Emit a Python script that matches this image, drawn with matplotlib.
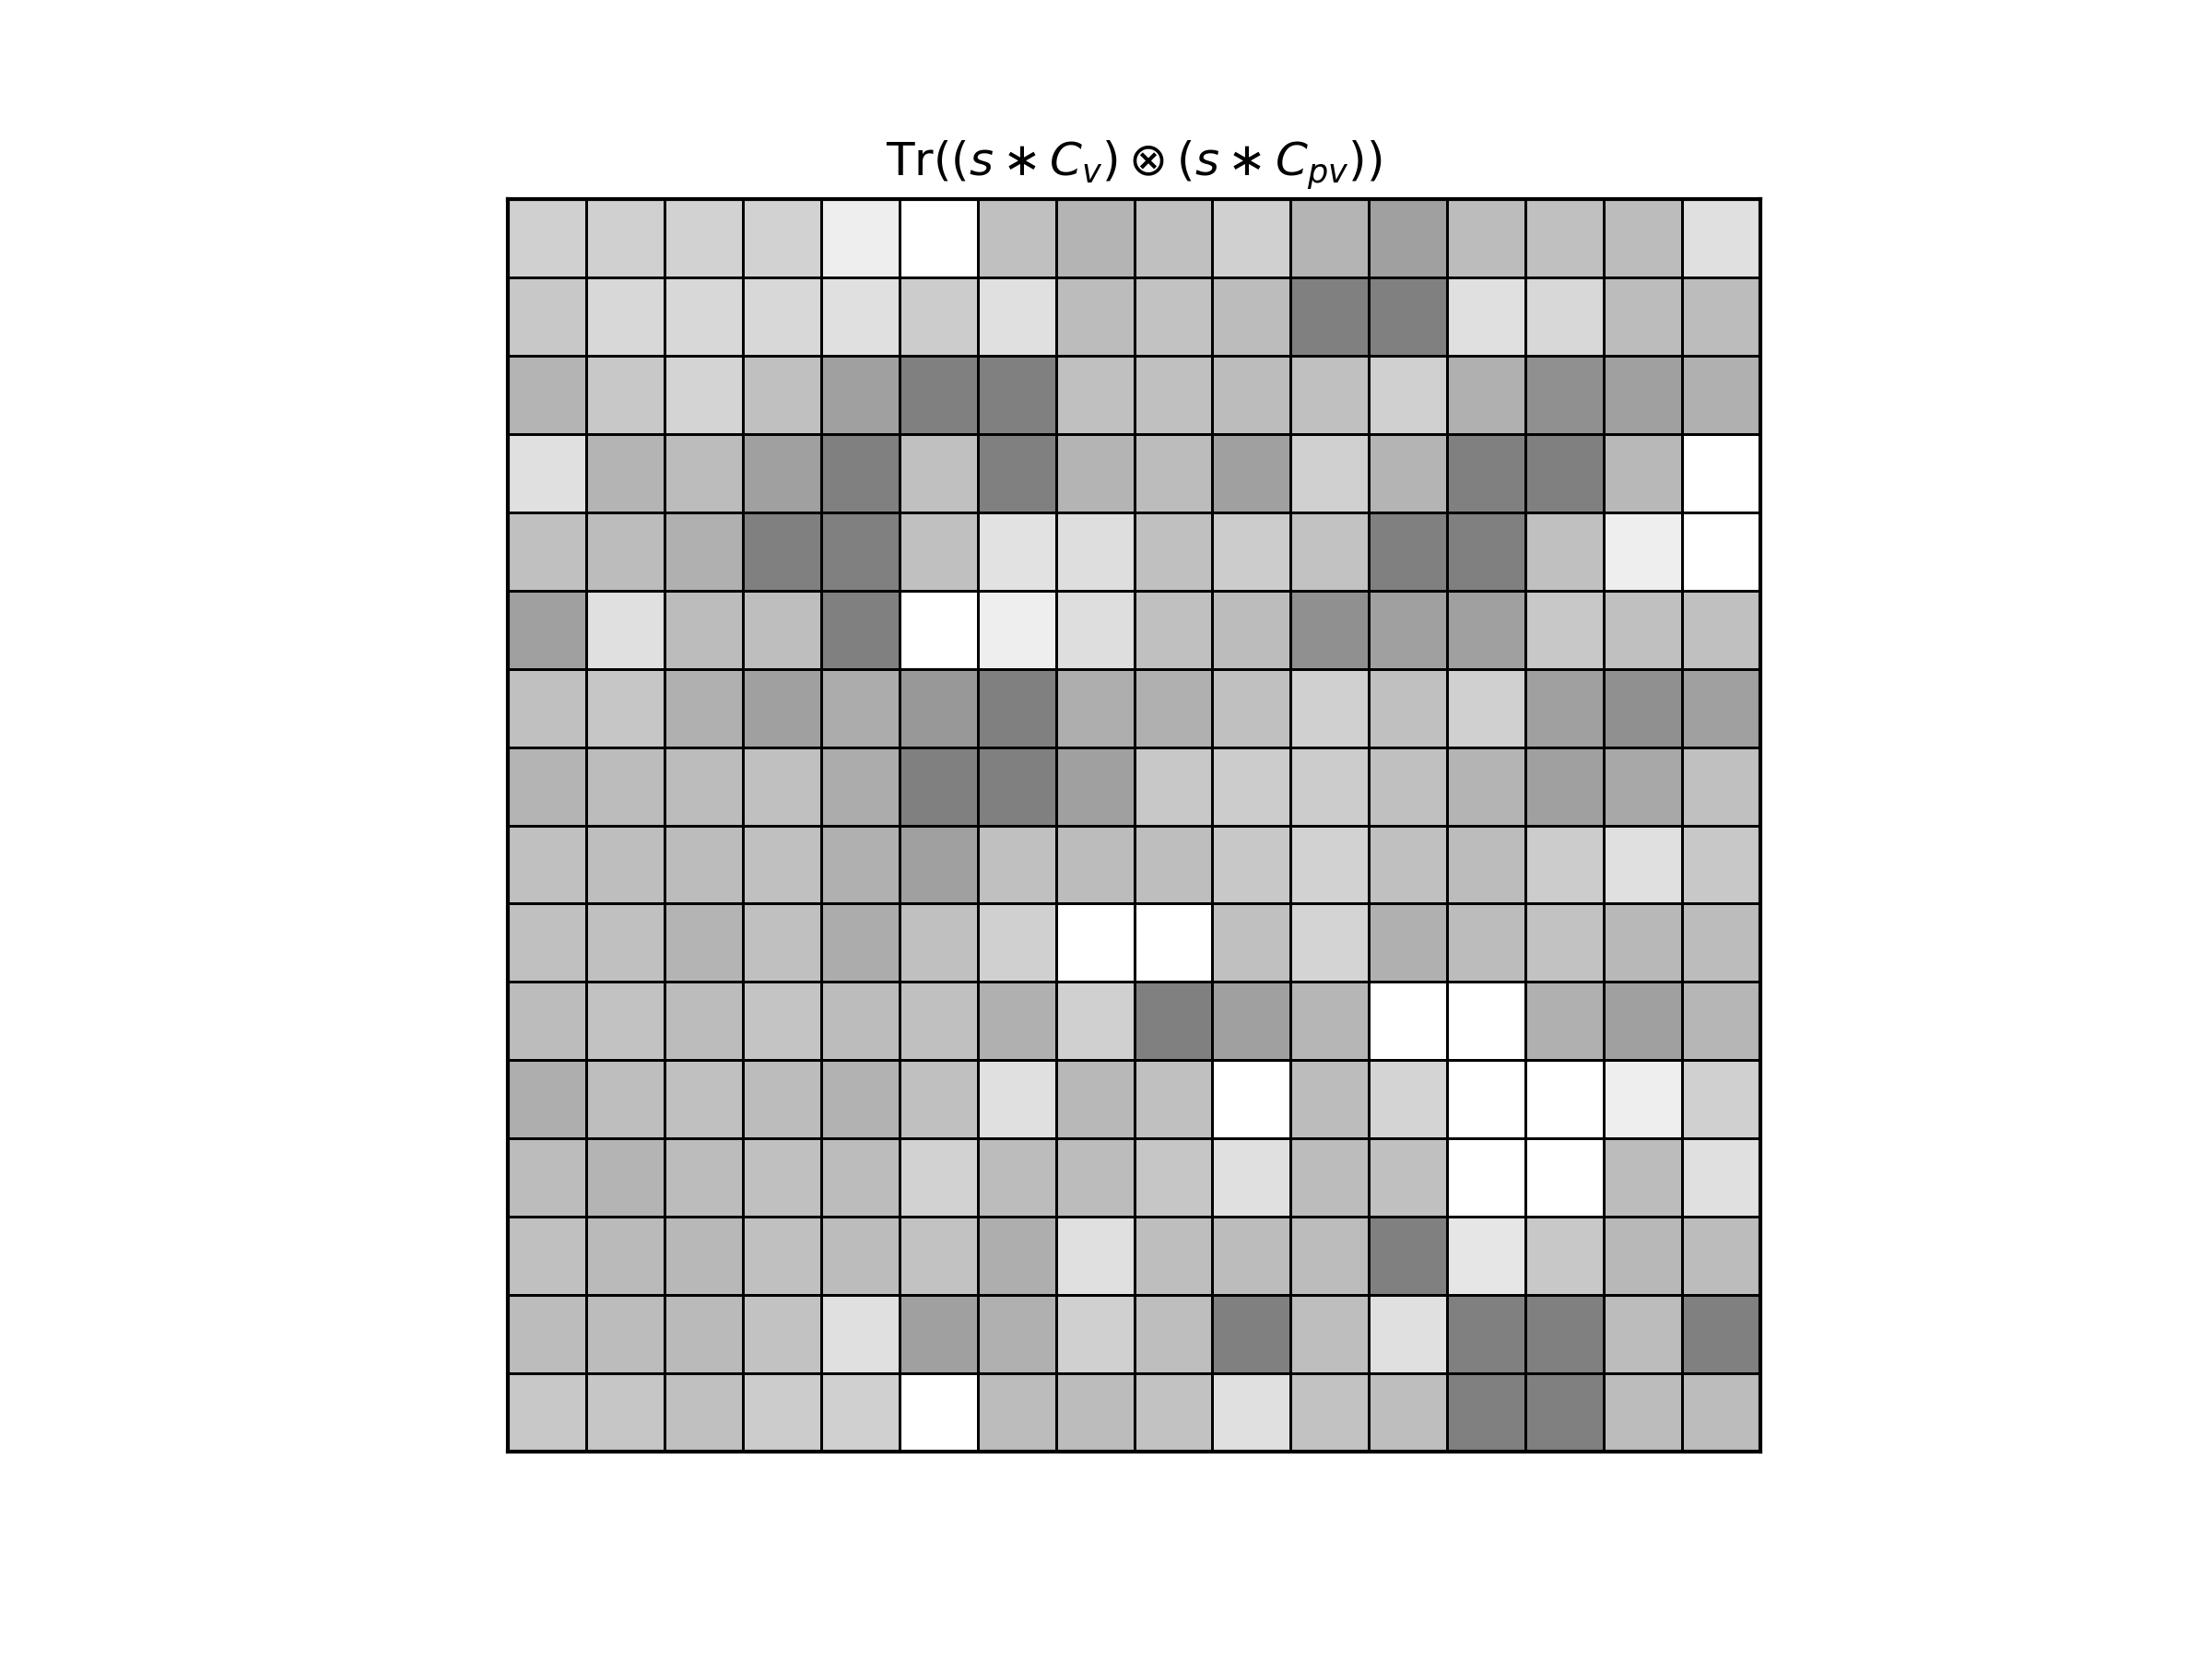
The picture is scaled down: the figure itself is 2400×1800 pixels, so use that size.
import numpy as np
import matplotlib
matplotlib.use("Agg")
import matplotlib.pyplot as plt

# grey intensity of each cell (0 = black, 255 = white), rows top to bottom
row00 = [0xD0, 0xD0, 0xD2, 0xD2, 0xEE, 0xFF, 0xC0, 0xB4, 0xC0, 0xD0, 0xB4, 0xA0, 0xBC, 0xC0, 0xBC, 0xE0]
row01 = [0xC8, 0xD8, 0xD8, 0xD8, 0xE0, 0xCC, 0xE0, 0xBC, 0xC2, 0xBC, 0x80, 0x80, 0xE0, 0xD8, 0xBC, 0xBC]
row02 = [0xB4, 0xC8, 0xD4, 0xC0, 0xA0, 0x80, 0x80, 0xC0, 0xC0, 0xBC, 0xC0, 0xD0, 0xB0, 0x90, 0xA0, 0xB0]
row03 = [0xE0, 0xB4, 0xBC, 0xA0, 0x80, 0xC0, 0x80, 0xB4, 0xBC, 0xA0, 0xD0, 0xB4, 0x80, 0x80, 0xB8, 0xFF]
row04 = [0xC0, 0xBC, 0xB0, 0x80, 0x80, 0xC0, 0xE2, 0xDE, 0xC0, 0xCC, 0xC2, 0x80, 0x80, 0xC0, 0xEE, 0xFF]
row05 = [0xA0, 0xE0, 0xBC, 0xBE, 0x80, 0xFF, 0xEE, 0xDE, 0xC0, 0xBC, 0x90, 0xA0, 0xA0, 0xC8, 0xC0, 0xC0]
row06 = [0xC0, 0xC6, 0xB0, 0xA0, 0xAC, 0x98, 0x80, 0xAE, 0xB0, 0xC0, 0xD0, 0xC0, 0xD0, 0xA0, 0x90, 0xA0]
row07 = [0xB4, 0xBC, 0xBC, 0xC0, 0xAC, 0x80, 0x80, 0xA0, 0xC8, 0xCC, 0xCC, 0xC0, 0xB4, 0xA0, 0xA8, 0xC0]
row08 = [0xC0, 0xBE, 0xBC, 0xC0, 0xB0, 0xA0, 0xC0, 0xBC, 0xBE, 0xC8, 0xD2, 0xC0, 0xBC, 0xCC, 0xE0, 0xC8]
row09 = [0xC0, 0xC0, 0xB4, 0xC0, 0xAC, 0xC0, 0xD0, 0xFF, 0xFF, 0xC0, 0xD4, 0xB0, 0xBC, 0xC2, 0xB8, 0xBC]
row10 = [0xBC, 0xC2, 0xBC, 0xC4, 0xBC, 0xC0, 0xB0, 0xD0, 0x80, 0xA0, 0xB6, 0xFF, 0xFF, 0xB0, 0xA0, 0xB6]
row11 = [0xAE, 0xBE, 0xC0, 0xBC, 0xB2, 0xC0, 0xE0, 0xB8, 0xC0, 0xFF, 0xBC, 0xD4, 0xFF, 0xFF, 0xEE, 0xD0]
row12 = [0xBC, 0xB4, 0xBC, 0xC0, 0xBC, 0xD2, 0xBC, 0xBC, 0xC6, 0xE0, 0xBC, 0xC0, 0xFF, 0xFF, 0xBC, 0xE0]
row13 = [0xC0, 0xBA, 0xB8, 0xC0, 0xBC, 0xC2, 0xAE, 0xE0, 0xBE, 0xBC, 0xBC, 0x80, 0xE6, 0xC8, 0xB8, 0xBC]
row14 = [0xBC, 0xBC, 0xBA, 0xC2, 0xE0, 0xA0, 0xB0, 0xD0, 0xBE, 0x80, 0xBE, 0xE0, 0x80, 0x80, 0xBC, 0x80]
row15 = [0xC8, 0xC6, 0xC0, 0xCC, 0xD0, 0xFF, 0xBC, 0xBC, 0xC2, 0xE0, 0xC2, 0xBE, 0x80, 0x80, 0xBC, 0xBC]

rows = [row00, row01, row02, row03, row04, row05, row06, row07,
        row08, row09, row10, row11, row12, row13, row14, row15]
values = np.array(rows, dtype=float)

title = r'$\mathrm{Tr}((s \ast C_v) \otimes (s \ast C_{pv}))$'

fig = plt.figure(figsize=(8, 6), dpi=300)
ax = fig.add_axes([551 / 2400, (1800 - 1575) / 1800, 1359 / 2400, 1359 / 1800])
ax.pcolormesh(values, cmap='gray', vmin=0, vmax=255,
              edgecolors='black', linewidth=0.35)
ax.set_xlim(0, values.shape[1])
ax.set_ylim(values.shape[0], 0)
ax.set_xticks([])
ax.set_yticks([])
for s in ax.spines.values():
    s.set_linewidth(1.0)
ax.set_title(title, fontsize=12)
fig.savefig('out.png', dpi=300)
